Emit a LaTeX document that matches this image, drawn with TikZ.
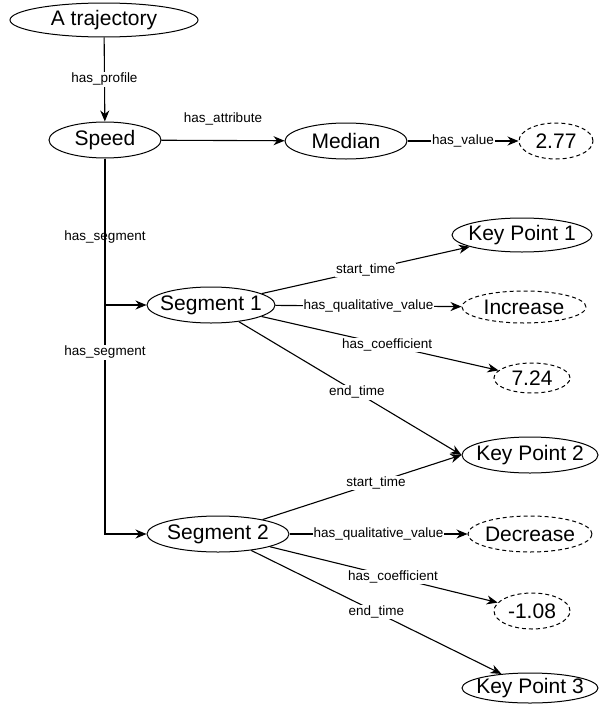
\documentclass[tikz,border=0pt]{standalone}
\usepackage{fontspec}
\setmainfont{Liberation Sans}
\usetikzlibrary{shapes.geometric,arrows.meta}
\tikzset{
  ell/.style 2 args={ellipse, draw, fill=white, line width=1pt, inner sep=0pt,
    minimum width=#1pt, minimum height=#2pt, font=\fontsize{21}{24}\selectfont},
  dell/.style 2 args={ell={#1}{#2}, dash pattern=on 4pt off 3pt},
  lab/.style={fill=white, inner sep=1pt, font=\fontsize{13.5}{15}\selectfont},
  conn/.style={line width=1.1pt, -{Stealth[length=11pt,width=9pt,inset=3.5pt]}},
}
\newcommand{\zt}[1]{\makebox[0pt]{#1}}
\begin{document}
\begin{tikzpicture}[x=1pt,y=-1pt]
\useasboundingbox (0,0) rectangle (600,704);
\node[ell={188}{34}] (traj) at (104,20) {\zt{A trajectory}};
\node[ell={112}{36}] (speed) at (105,140) {\zt{Speed}};
\node[ell={122}{36}] (median) at (346,141) {\zt{Median}};
\node[dell={74}{36}] (v277) at (556,141) {\zt{2.77}};
\node[ell={128}{36}] (seg1) at (211,305) {\zt{Segment 1}};
\node[ell={142}{36}] (seg2) at (218,534) {\zt{Segment 2}};
\node[ell={140}{34}] (kp1) at (522,235) {\zt{Key Point 1}};
\node[dell={124}{32}] (inc) at (524,307) {\zt{Increase}};
\node[dell={76}{30}] (v724) at (532,378) {\zt{7.24}};
\node[ell={136}{36}] (kp2) at (530,455) {\zt{Key Point 2}};
\node[dell={124}{36}] (dec) at (530,534) {\zt{Decrease}};
\node[dell={76}{36}] (v108) at (532,611) {\zt{-1.08}};
\node[ell={136}{30}] (kp3) at (530,688) {\zt{Key Point 3}};

\draw[conn] (traj) -- node[lab] (lprof) {has\_profile} (speed);
\draw[conn] (speed) -- node[lab, yshift=22pt, fill=none] (lattr) {has\_attribute} (median);
\draw[conn] (median) -- node[lab] (lval) {has\_value} (v277);
\draw[conn] (speed.south) |- node[lab, pos=0.269] (lseg1) {has\_segment} (seg1.west);
\draw[conn] (speed.south) |- node[lab, pos=0.258] (lseg2) {has\_segment} (seg2.west);

\draw[conn] (seg1) -- node[lab] (l1a) {start\_time} (kp1);
\draw[conn] (seg1) -- node[lab] (l1b) {has\_qualitative\_value} (inc);
\draw[conn] (seg1) -- node[lab, pos=0.53] (l1c) {has\_coefficient} (v724);
\draw[conn] (seg1) -- node[lab, pos=0.53] (l1d) {end\_time} (kp2.west);

\draw[conn] (seg2) -- node[lab, pos=0.57] (l2a) {start\_time} (kp2.west);
\draw[conn] (seg2) -- node[lab] (l2b) {has\_qualitative\_value} (dec);
\draw[conn] (seg2) -- node[lab, pos=0.54] (l2c) {has\_coefficient} (v108);
\draw[conn] (seg2) -- node[lab] (l2d) {end\_time} (kp3);
\end{tikzpicture}
\end{document}
